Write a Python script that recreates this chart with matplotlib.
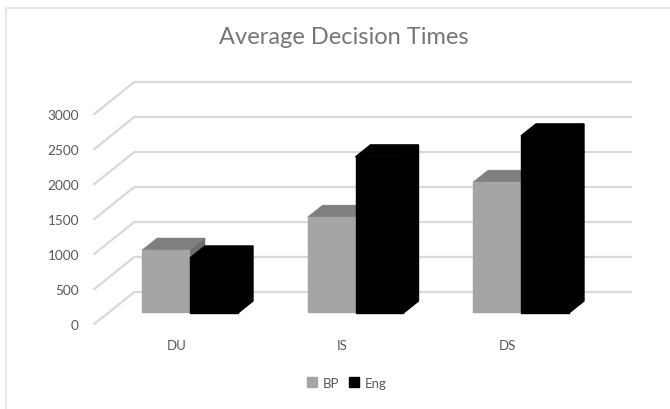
import matplotlib
matplotlib.use("Agg")
import matplotlib.pyplot as plt
from matplotlib.lines import Line2D
from matplotlib.patches import Patch

categories = ["DU", "IS", "DS"]
series_names = ["BP", "Eng"]
bp_values = [900, 1370, 1870]
eng_values = [786, 2230, 2530]
tick_values = [0, 500, 1000, 1500, 2000, 2500, 3000]
title = "Average Decision Times"

W, H = 670, 410
PX_X = 165.5      # pixels per category
PX_Y = 0.07       # pixels per value unit
X0, Y0 = 190, 314 # pixel position of first category centre / zero line
DX, DY = 15, 12   # oblique offset of one bar depth, pixels
BAR_W = 0.29

plt.rcParams["font.family"] = ["Lato", "DejaVu Sans"]
fig = plt.figure(figsize=(W / 100, H / 100), dpi=100, facecolor="white")
ax = fig.add_axes([0, 0, 1, 1])
ax.set_xlim(-X0 / PX_X, (W - X0) / PX_X)
ax.set_ylim((Y0 - H) / PX_Y, Y0 / PX_Y)
ax.axis("off")


def proj(x, v, d=0.0):
    """Oblique projection: category x, value v, depth d (in bar depths)."""
    return x + d * DX / PX_X, v + d * DY / PX_Y


GRID = "#d9d9d9"
X_LEFT, X_RIGHT = -0.495, 2.505
D_FRONT, D_BACK = -0.92, 1.75
for v in tick_values:
    p0, p1, p2 = proj(X_LEFT, v, D_FRONT), proj(X_LEFT, v, D_BACK), proj(X_RIGHT, v, D_BACK)
    ax.plot([p0[0], p1[0], p2[0]], [p0[1], p1[1], p2[1]], color=GRID, lw=1.6,
            solid_joinstyle="miter", zorder=1)
    tx, ty = proj(X_LEFT, v, D_FRONT)
    ax.annotate(f"{v}", (tx, ty), xytext=(-11, -1), textcoords="offset points",
                ha="right", va="center", fontsize=9.8, color="#595959")


def bar3d(x_left, value, front, top, side, z, seam):
    x_right = x_left + BAR_W
    t = [proj(x_left, value), proj(x_right, value), proj(x_right, value, 1), proj(x_left, value, 1)]
    s = [proj(x_right, 0), proj(x_right, value), proj(x_right, value, 1), proj(x_right, 0, 1)]
    ax.fill(*zip(*t), facecolor=top, edgecolor=top, lw=seam, zorder=z)
    ax.fill(*zip(*s), facecolor=side, edgecolor=side, lw=seam, zorder=z)
    ax.bar(x_left, value, width=BAR_W, align="edge", color=front, edgecolor=front,
           lw=seam, zorder=z)


for i, (bp, eng) in enumerate(zip(bp_values, eng_values)):
    bar3d(i - BAR_W, bp, "#a5a5a5", "#7f7f7f", "#6e6e6e", 3, 0.3)
    bar3d(i, eng, "#000000", "#000000", "#000000", 4, 1.0)
    cx, cy = proj(i, 0)
    ax.annotate(categories[i], (cx, cy), xytext=(-9.5, -23), textcoords="offset points",
                ha="center", va="center", fontsize=9.5, color="#595959")

ax.text(344 / W, 1 - 38 / H, title, transform=ax.transAxes, ha="center", va="center",
        fontsize=17, color="#767676")

handles = [Patch(color="#a5a5a5", label=series_names[0]), Patch(color="#000000", label=series_names[1])]
ax.legend(handles=handles, loc="center", bbox_to_anchor=(346.5 / W, 1 - 384 / H),
          bbox_transform=ax.transAxes, ncol=2, frameon=False, fontsize=9.5, labelcolor="#595959",
          handlelength=0.8, handleheight=0.8, handletextpad=0.4, columnspacing=0.75,
          borderpad=0, borderaxespad=0)

fig.add_artist(Line2D([6 / W, 6 / W, 1], [0, 1 - 9 / H, 1 - 9 / H], transform=fig.transFigure,
                      color="#e4e4e4", lw=1.2))

fig.savefig("out.png", dpi=100, facecolor="white")
